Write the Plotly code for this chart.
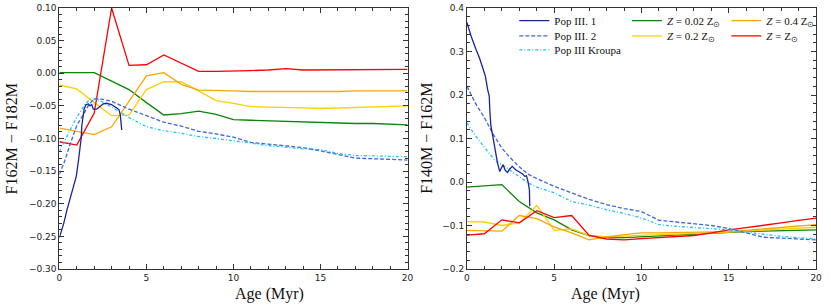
import plotly.graph_objects as go

# ---------------- data: left panel (F162M - F182M) ----------------
ages = list(range(21))

L_pop1_x = [0, 0.25, 0.44, 0.63, 0.82, 0.97, 1.1, 1.19, 1.25, 1.29, 1.35, 1.42, 1.53, 1.67, 1.76, 1.86,
            1.95, 2.14, 2.33, 2.52, 2.71, 2.99, 3.28, 3.43, 3.5, 3.58]
L_pop1_y = [-0.252, -0.23, -0.209, -0.191, -0.174, -0.158, -0.133, -0.112, -0.10, -0.08, -0.065, -0.055,
            -0.048, -0.047, -0.050, -0.048, -0.055, -0.055, -0.051, -0.047, -0.046, -0.048, -0.053,
            -0.056, -0.064, -0.087]

L_pop2_x = [0, 0.3, 0.6, 1.0, 1.4, 1.7, 2.0, 2.5, 3, 4, 5, 6, 7, 8, 9, 10, 11, 12, 13, 14, 15, 16, 17, 18, 19, 20]
L_pop2_y = [-0.155, -0.135, -0.11, -0.08, -0.062, -0.048, -0.039, -0.040, -0.043, -0.055, -0.065, -0.075,
            -0.081, -0.089, -0.093, -0.098, -0.106, -0.109, -0.112, -0.114, -0.119, -0.125, -0.130,
            -0.131, -0.132, -0.133]

L_krou_x = [0, 0.3, 0.6, 0.9, 1.2, 1.5, 1.8, 2.2, 3, 4, 5, 6, 7, 8, 9, 10, 11, 12, 13, 14, 15, 16, 17, 18, 19, 20]
L_krou_y = [-0.120, -0.105, -0.088, -0.072, -0.058, -0.046, -0.040, -0.040, -0.052, -0.068, -0.082, -0.088,
            -0.092, -0.097, -0.100, -0.103, -0.107, -0.111, -0.114, -0.116, -0.117, -0.123, -0.126,
            -0.127, -0.128, -0.128]

L_z002 = [0.001, 0.001, 0.001, -0.012, -0.025, -0.045, -0.064, -0.062, -0.058, -0.063, -0.071, -0.072,
          -0.073, -0.074, -0.075, -0.075, -0.076, -0.077, -0.077, -0.078, -0.079]
L_z02 = [-0.018, -0.024, -0.045, -0.065, -0.064, -0.025, -0.013, -0.013, -0.027, -0.042, -0.046, -0.051,
         -0.052, -0.052, -0.053, -0.054, -0.053, -0.052, -0.051, -0.051, -0.050]
L_z04 = [-0.084, -0.089, -0.094, -0.082, -0.043, -0.004, 0.001, -0.017, -0.026, -0.026, -0.027, -0.028,
         -0.028, -0.029, -0.028, -0.028, -0.028, -0.027, -0.027, -0.027, -0.027]
L_z1 = [-0.105, -0.110, -0.061, 0.100, 0.012, 0.013, 0.028, 0.016, 0.003, 0.003, 0.003, 0.004, 0.005,
        0.007, 0.005, 0.005, 0.005, 0.005, 0.005, 0.006, 0.006]

# ---------------- data: right panel (F140M - F162M) ----------------
R_pop1_x = [0, 0.24, 0.53, 0.72, 0.94, 1.06, 1.19, 1.28, 1.31, 1.37, 1.47, 1.56, 1.65, 1.75, 1.88, 1.99,
            2.07, 2.18, 2.32, 2.45, 2.6, 2.79, 2.98, 3.17, 3.32, 3.41, 3.5, 3.58, 3.6]
R_pop1_y = [0.367, 0.335, 0.304, 0.285, 0.258, 0.243, 0.212, 0.197, 0.166, 0.13, 0.108, 0.086, 0.070, 0.044,
            0.024, 0.036, 0.040, 0.028, 0.022, 0.030, 0.036, 0.028, 0.024, 0.019, 0.013, 0.014, 0.001,
            -0.018, -0.056]

R_pop2_x = [0, 0.5, 1, 1.5, 2, 2.5, 3, 3.5, 4, 5, 6, 7, 8, 9, 10, 11, 12, 13, 14, 15, 16, 17, 18, 19, 20]
R_pop2_y = [0.220, 0.180, 0.148, 0.110, 0.078, 0.055, 0.035, 0.018, 0.008, -0.010, -0.025, -0.040, -0.052,
            -0.061, -0.068, -0.088, -0.092, -0.096, -0.100, -0.107, -0.117, -0.127, -0.129, -0.131, -0.133]

R_krou_x = [0, 0.44, 1.0, 1.6, 2.3, 3, 3.5, 4, 5, 6, 7, 8, 9, 10, 11, 12, 13, 14, 15, 16, 17, 18, 19, 20]
R_krou_y = [0.136, 0.109, 0.080, 0.050, 0.032, 0.012, -0.002, -0.012, -0.025, -0.045, -0.053, -0.064,
            -0.072, -0.083, -0.098, -0.102, -0.105, -0.108, -0.110, -0.115, -0.120, -0.125, -0.128, -0.131]

R_z002 = [-0.012, -0.009, -0.006, -0.045, -0.071, -0.087, -0.110, -0.123, -0.128, -0.128, -0.126, -0.124,
          -0.122, -0.119, -0.117, -0.115, -0.114, -0.113, -0.112, -0.111, -0.110]
R_z02 = [-0.091, -0.092, -0.100, -0.094, -0.054, -0.111, -0.108, -0.123, -0.126, -0.124, -0.122, -0.121,
         -0.120, -0.119, -0.117, -0.115, -0.113, -0.110, -0.108, -0.106, -0.104]
R_z04 = [-0.111, -0.112, -0.113, -0.077, -0.084, -0.103, -0.117, -0.133, -0.126, -0.121, -0.117, -0.117,
         -0.116, -0.116, -0.115, -0.114, -0.111, -0.108, -0.104, -0.101, -0.098]
R_z1 = [-0.122, -0.119, -0.087, -0.094, -0.066, -0.082, -0.077, -0.123, -0.131, -0.133, -0.130, -0.128,
        -0.125, -0.123, -0.117, -0.110, -0.105, -0.100, -0.094, -0.088, -0.083]

names = ["Pop III. 1", "Pop III. 2", "Pop III Kroupa",
         "<i>Z</i> = 0.02 Z<sub>⊙</sub>", "<i>Z</i> = 0.2 Z<sub>⊙</sub>",
         "<i>Z</i> = 0.4 Z<sub>⊙</sub>", "<i>Z</i> = Z<sub>⊙</sub>"]
colors = ["#1c2299", "#3f66dd", "#22c4f5", "#0a850a", "#ffd000", "#ffa500", "#ff0000"]
dashes = ["solid", "4px,2px", "3px,2px,1px,2px", "solid", "solid", "solid", "solid"]

# legend slot per series (column-major 3 columns)
legend_ids = ["legend", "legend2", "legend3", "legend4", "legend5", "legend6", "legend7"]
legend_pos = [(0.622, 1.007), (0.622, 0.949), (0.622, 0.895),
              (0.759, 1.007), (0.759, 0.949),
              (0.880, 1.007), (0.880, 0.949)]

left = [(L_pop1_x, L_pop1_y), (L_pop2_x, L_pop2_y), (L_krou_x, L_krou_y),
        (ages, L_z002), (ages, L_z02), (ages, L_z04), (ages, L_z1)]
right = [(R_pop1_x, R_pop1_y), (R_pop2_x, R_pop2_y), (R_krou_x, R_krou_y),
         (ages, R_z002), (ages, R_z02), (ages, R_z04), (ages, R_z1)]

fig = go.Figure()
draw_order = [3, 4, 5, 6, 1, 2, 0]
for i in draw_order:
    x, y = left[i]
    fig.add_trace(go.Scatter(x=x, y=y, mode="lines", xaxis="x", yaxis="y",
                             line=dict(color=colors[i], width=1.3, dash=dashes[i]),
                             showlegend=False, hoverinfo="skip"))
for i in draw_order:
    x, y = right[i]
    fig.add_trace(go.Scatter(x=x, y=y, mode="lines", xaxis="x2", yaxis="y2", name=names[i],
                             line=dict(color=colors[i], width=1.3, dash=dashes[i]),
                             legend=legend_ids[i], showlegend=True, hoverinfo="skip"))

serif = "Liberation Serif"
tickfont = dict(family="DejaVu Sans", size=9, color="#222")

def xax(domain, anchor):
    return dict(domain=domain, anchor=anchor, range=[0, 20], dtick=5, tick0=0,
                ticks="inside", ticklen=5, tickwidth=1, tickcolor="#333",
                showline=True, linecolor="#333", linewidth=1, mirror="allticks",
                showgrid=False, zeroline=False, tickfont=tickfont,
                minor=dict(dtick=1, ticks="inside", ticklen=3, tickcolor="#333", showgrid=False))

def yax(anchor, rng, dtick, minor, fmt):
    return dict(domain=[0, 1], anchor=anchor, range=rng, dtick=dtick, tick0=0, tickformat=fmt,
                ticks="inside", ticklen=5, tickwidth=1, tickcolor="#333",
                showline=True, linecolor="#333", linewidth=1, mirror="allticks",
                showgrid=False, zeroline=False, tickfont=tickfont,
                minor=dict(dtick=minor, ticks="inside", ticklen=3, tickcolor="#333", showgrid=False))

layout = dict(
    width=831, height=307,
    margin=dict(l=0, r=0, t=8, b=38),
    paper_bgcolor="white", plot_bgcolor="white",
    xaxis=xax([57 / 831, 409 / 831], "y"),
    yaxis=yax("x", [-0.30, 0.10], 0.05, 0.01, ".2f"),
    xaxis2=xax([469 / 831, 822 / 831], "y2"),
    yaxis2=yax("x2", [-0.2, 0.4], 0.1, 0.02, ".1f"),
    annotations=[
        dict(text="Age (Myr)", xref="paper", yref="paper", x=233 / 831, y=-0.096,
             showarrow=False, font=dict(family=serif, size=16, color="#111"), yanchor="middle"),
        dict(text="Age (Myr)", xref="paper", yref="paper", x=645.5 / 831, y=-0.096,
             showarrow=False, font=dict(family=serif, size=16, color="#111"), yanchor="middle"),
        dict(text="F162M − F182M", xref="paper", yref="paper", x=9 / 831, y=0.5, textangle=-90,
             showarrow=False, font=dict(family=serif, size=16, color="#111"), xanchor="center"),
        dict(text="F140M − F162M", xref="paper", yref="paper", x=428 / 831, y=0.5, textangle=-90,
             showarrow=False, font=dict(family=serif, size=16, color="#111"), xanchor="center"),
    ],
)
for lid, (lx, ly) in zip(legend_ids, legend_pos):
    layout[lid] = dict(x=lx, y=ly, xanchor="left", yanchor="top", bgcolor="rgba(0,0,0,0)",
                       borderwidth=0, itemwidth=30, font=dict(family=serif, size=11, color="#111"))
fig.update_layout(**layout)

fig.write_html("out.html", config={"displayModeBar": False},
               post_script="document.body.style.margin='0';")
